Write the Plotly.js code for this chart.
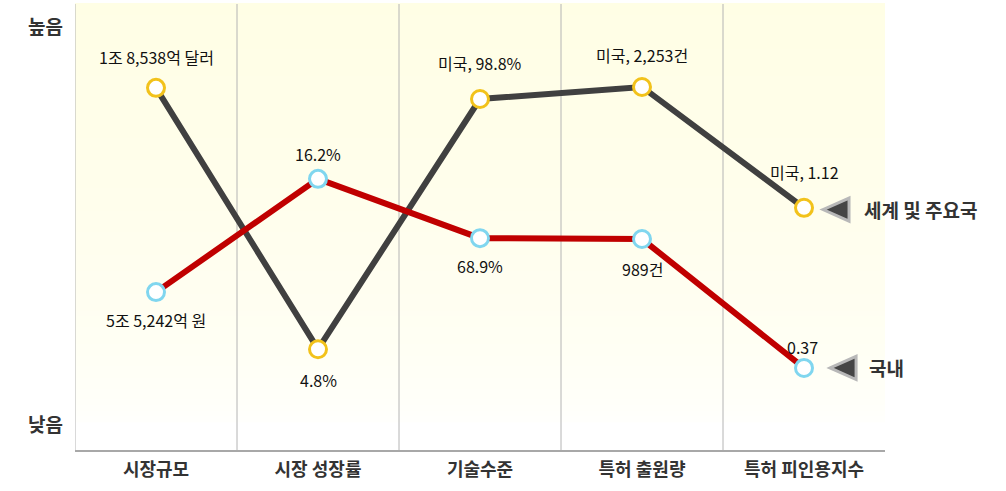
<!DOCTYPE html>
<html>
<head>
<meta charset="utf-8">
<script src="https://cdn.plot.ly/plotly-3.0.1.min.js"></script>
<style>html,body{margin:0;padding:0;background:#fff;}#chart{width:1006px;height:491px;}</style>
</head>
<body>
<div id="chart"></div>
<script>
// ---- data ----
var categories = ["시장규모", "시장 성장률", "기술수준", "특허 출원량", "특허 피인용지수"];
// relative level (0 = 낮음, 100 = 높음)
var worldLevel = [81.2, 22.6, 78.7, 81.4, 54.3];
var koreaLevel = [35.4, 60.8, 47.5, 47.3, 18.4];
var worldLabels = ["1조 8,538억 달러", "4.8%", "미국, 98.8%", "미국, 2,253건", "미국, 1.12"];
var koreaLabels = ["5조 5,242억 원", "16.2%", "68.9%", "989건", "0.37"];
var seriesNames = ["세계 및 주요국", "국내"];
var levelTicks = [94.8, 5.6];
var levelTickText = ["높음", "낮음"];

// ---- presentation ----
var FONT = '"Noto Sans CJK KR", "Noto Sans", sans-serif';
var worldLabelShift = [31, -31, 36, 32, 36];
var koreaLabelShift = [-28, 25, -28, -30, 21];
var x = categories.map(function(_, i){ return i; });

var traces = [
  {
    x: x, y: worldLevel, type: 'scatter', mode: 'lines+markers', name: seriesNames[0],
    line: {color: '#404040', width: 6},
    marker: {size: 17, color: '#ffffff', line: {color: '#f2c21b', width: 3}},
    hoverinfo: 'skip'
  },
  {
    x: x, y: koreaLevel, type: 'scatter', mode: 'lines+markers', name: seriesNames[1],
    line: {color: '#c00000', width: 6},
    marker: {size: 17, color: '#ffffff', line: {color: '#80d6ef', width: 3}},
    hoverinfo: 'skip'
  }
];

var shapes = [];
// gradient background bands (plot area only)
var nb = 80;
for (var b = 0; b < nb; b++) {
  var t = b / nb; // 0 bottom -> 1 top
  var f = Math.min(1, Math.max(0, (t - 0.05) / 0.95));
  f = Math.pow(f, 0.5);
  var g = Math.round(255 - 1 * f);
  var bl = Math.round(255 - 26 * f);
  shapes.push({type: 'rect', xref: 'paper', yref: 'paper', x0: 0, x1: 1,
    y0: t, y1: (b + 1) / nb + 0.002, fillcolor: 'rgb(255,' + g + ',' + bl + ')',
    line: {width: 0}, layer: 'below'});
}
// column separators
for (var i = 0; i < categories.length; i++) {
  shapes.push({type: 'line', xref: 'x', yref: 'paper', x0: i - 0.5, x1: i - 0.5, y0: 0, y1: 1,
    line: {color: '#b4b4b4', width: 1}, layer: 'below'});
}
// legend triangles
function tri(xTip, yc, color, outline) {
  var w = 0.0321, hh = 2.6;
  return {type: 'path', xref: 'paper', yref: 'y',
    path: 'M ' + xTip + ' ' + yc + ' L ' + (xTip + w) + ' ' + (yc + hh) + ' L ' + (xTip + w) + ' ' + (yc - hh) + ' Z',
    fillcolor: color, line: {color: outline, width: 3}};
}
var last = categories.length - 1;
shapes.push(tri(0.9235, worldLevel[last] - 0.4, '#454545', '#b8b8b8'));
shapes.push(tri(0.9322, koreaLevel[last], '#454545', '#b8b8b8'));

var annotations = [];
worldLabels.forEach(function(txt, i){
  annotations.push({x: i, y: worldLevel[i], xref: 'x', yref: 'y', text: txt, showarrow: false,
    yshift: worldLabelShift[i], font: {family: FONT, size: 16, color: '#111'}});
});
koreaLabels.forEach(function(txt, i){
  annotations.push({x: i, y: koreaLevel[i], xref: 'x', yref: 'y', text: txt, showarrow: false,
    yshift: koreaLabelShift[i], xshift: (i === last ? -2 : 0), font: {family: FONT, size: 16, color: '#111'}});
});
annotations.push({x: 0.972, y: worldLevel[last], xref: 'paper', yref: 'y', xanchor: 'left', yshift: -2,
  text: '<b>' + seriesNames[0] + '</b>', showarrow: false, font: {family: FONT, size: 19, color: '#333'}});
annotations.push({x: 0.978, y: koreaLevel[last], xref: 'paper', yref: 'y', xanchor: 'left', yshift: 0,
  text: '<b>' + seriesNames[1] + '</b>', showarrow: false, font: {family: FONT, size: 19, color: '#333'}});

var layout = {
  width: 1006, height: 491,
  margin: {l: 75, r: 121, t: 4, b: 41},
  paper_bgcolor: '#ffffff', plot_bgcolor: 'rgba(0,0,0,0)',
  showlegend: false,
  xaxis: {
    range: [-0.5, 4.5], tickvals: x, ticktext: categories.map(function(c){ return '<b>' + c + '</b>'; }),
    showgrid: false, zeroline: false, showline: true, linecolor: '#a8a8a8', linewidth: 1.5,
    ticks: '', ticklabelstandoff: 3,
    tickfont: {family: FONT, size: 18, color: '#333'}, fixedrange: true
  },
  yaxis: {
    range: [0, 100], tickvals: levelTicks, ticktext: levelTickText.map(function(c){ return '<b>' + c + '</b>'; }),
    showgrid: false, zeroline: false, showline: false, ticks: '', ticklabelstandoff: 11,
    tickfont: {family: FONT, size: 19, color: '#333'}, fixedrange: true
  },
  shapes: shapes,
  annotations: annotations,
  font: {family: FONT}
};

Plotly.newPlot('chart', traces, layout, {displayModeBar: false, staticPlot: true});
</script>
</body>
</html>
